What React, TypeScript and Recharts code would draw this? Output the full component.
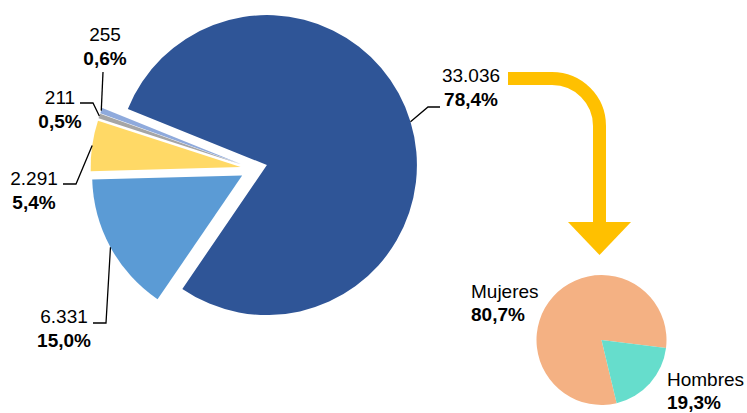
import { PieChart, Pie, Cell } from "recharts";

// Main pie: totals by group (no names shown in the chart)
const bigValues = [33036, 6331, 2291, 211, 255];
const bigColors = ["#2F5597", "#5B9BD5", "#FFD966", "#A5A5A5", "#8FAADC"];

// Breakdown of the largest group
const genderNames = ["Mujeres", "Hombres"];
const genderValues = [80.7, 19.3];
const genderColors = ["#F4B183", "#66DDCC"];

const FONT = "'Liberation Sans', Arial, sans-serif";
const RAD = Math.PI / 180;

const BIG_CX = 254;
const BIG_CY = 169;
const BIG_R = 150;
const EXPLODE = 13.5;
const BIG_START = 158;

// label placement (text centre / baseline, leader elbow and end)
const bigLabelLayout = [
  { x: 471, y: 82, elbow: [428, 107], end: [440, 107] },
  { x: 64, y: 323, elbow: [106, 323], end: [93, 323] },
  { x: 34, y: 185, elbow: [76, 184], end: [63, 184] },
  { x: 60, y: 104, elbow: [93, 103], end: [80, 103] },
  { x: 105, y: 41, elbow: [103, 72], end: [103, 72] },
];

const genderLabelLayout = [
  { x: 471, y: 298 },
  { x: 667, y: 386 },
];

const bigData = bigValues.map((v, i) => ({ name: `g${i}`, value: v }));
const genderData = genderNames.map((n, i) => ({ name: n, value: genderValues[i] }));

const total = bigValues.reduce((a, b) => a + b, 0);

// mid angle of every slice, used to explode each slice outwards
const midAngles = bigValues.map((v, i) => {
  const before = bigValues.slice(0, i).reduce((a, b) => a + b, 0);
  return BIG_START - ((before + v / 2) / total) * 360;
});

const fmtNum = (n: number) =>
  String(n).replace(/\B(?=(\d{3})+(?!\d))/g, ".");
const fmtPct = (p: number) => (p * 100).toFixed(1).replace(".", ",") + "%";

const makeBigLabel = (slice: number) => (props: any) => {
  if (props.index !== slice) return <g />;
  const lay = bigLabelLayout[slice];
  const sx = props.cx + props.outerRadius * Math.cos(-props.midAngle * RAD);
  const sy = props.cy + props.outerRadius * Math.sin(-props.midAngle * RAD);
  return (
    <g>
      <path
        d={`M${sx},${sy}L${lay.elbow[0]},${lay.elbow[1]}L${lay.end[0]},${lay.end[1]}`}
        stroke="#000"
        strokeWidth={1.3}
        fill="none"
      />
      <text x={lay.x} y={lay.y} textAnchor="middle" fontFamily={FONT} fontSize={19} fill="#000">
        {fmtNum(props.value)}
      </text>
      <text
        x={lay.x}
        y={lay.y + 24}
        textAnchor="middle"
        fontFamily={FONT}
        fontSize={19}
        fontWeight="bold"
        fill="#000"
      >
        {fmtPct(props.percent)}
      </text>
    </g>
  );
};

const genderLabel = (props: any) => {
  const lay = genderLabelLayout[props.index];
  return (
    <g>
      <text x={lay.x} y={lay.y} fontFamily={FONT} fontSize={19} fill="#000">
        {props.name}
      </text>
      <text x={lay.x} y={lay.y + 23} fontFamily={FONT} fontSize={19} fontWeight="bold" fill="#000">
        {fmtPct(props.percent)}
      </text>
    </g>
  );
};

export default function App() {
  return (
    <div style={{ position: "absolute", left: 0, top: 0, width: 747, height: 413, background: "#fff" }}>
      <PieChart width={747} height={413} margin={{ top: 0, right: 0, bottom: 0, left: 0 }}>
        {bigValues.map((_, i) => (
          <Pie
            key={i}
            data={bigData}
            dataKey="value"
            cx={BIG_CX + EXPLODE * Math.cos(midAngles[i] * RAD)}
            cy={BIG_CY - EXPLODE * Math.sin(midAngles[i] * RAD)}
            outerRadius={BIG_R}
            startAngle={BIG_START}
            endAngle={BIG_START - 360}
            stroke="none"
            labelLine={false}
            label={makeBigLabel(i)}
            isAnimationActive={false}
          >
            {bigData.map((_, j) => (
              <Cell key={j} fill={j === i ? bigColors[j] : "transparent"} stroke="none" />
            ))}
          </Pie>
        ))}
        <Pie
          data={genderData}
          dataKey="value"
          cx={601.5}
          cy={340}
          outerRadius={65}
          startAngle={283.5}
          endAngle={-76.5}
          stroke="none"
          labelLine={false}
          label={genderLabel}
          isAnimationActive={false}
        >
          {genderData.map((_, j) => (
            <Cell key={j} fill={genderColors[j]} stroke="none" />
          ))}
        </Pie>
      </PieChart>
      <svg
        width={747}
        height={413}
        style={{ position: "absolute", left: 0, top: 0, pointerEvents: "none" }}
      >
        <path
          d="M508,78.5 H552 A47.5,47.5 0 0 1 599.5,126 V223"
          stroke="#FFC000"
          strokeWidth={13}
          fill="none"
        />
        <path d="M568,222 L631,222 L599.5,255 Z" fill="#FFC000" />
      </svg>
    </div>
  );
}
